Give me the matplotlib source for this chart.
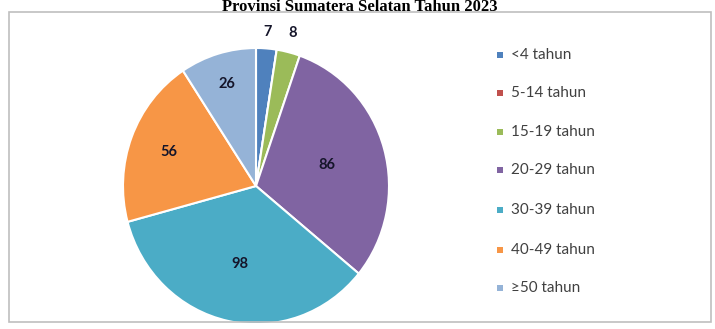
import numpy as np
import matplotlib
matplotlib.use("Agg")
from matplotlib import pyplot as plt
from matplotlib.patches import Rectangle

# data
categories = ["<4 tahun", "5-14 tahun", "15-19 tahun", "20-29 tahun",
              "30-39 tahun", "40-49 tahun", "\u226550 tahun"]
values = [7, 0, 8, 86, 98, 56, 26]
colors = ["#4F81BD", "#C0504D", "#9BBB59", "#8064A2",
          "#4BACC6", "#F79646", "#95B3D7"]
title = "Provinsi Sumatera Selatan Tahun 2023"

# radial position of each value label (fraction of radius)
label_r = [1.12, 1.0, 1.14, 0.55, 0.58, 0.70, 0.77]

W, H = 715, 329
fig = plt.figure(figsize=(W / 100, H / 100), dpi=100)
fig.patch.set_facecolor("white")

# chart frame
fig.patches.append(Rectangle((9 / W, 1 - 322 / H), 702 / W, 310 / H,
                             transform=fig.transFigure, fill=False,
                             edgecolor="#BFBFBF", linewidth=1.2))

# title
fig.text(0.503, 1 - 11 / H, title, ha="center", va="baseline",
         fontsize=12, fontweight="bold", family="Liberation Serif")

# pie axes, centre ~ (256, 186)
cx, cy, rx, ry = 256, 186, 133, 138
ax = fig.add_axes([(cx - rx) / W, 1 - (cy + ry) / H, 2 * rx / W, 2 * ry / H])
wedges, _ = ax.pie(values, colors=colors, startangle=90, counterclock=False,
                   wedgeprops=dict(edgecolor="white", linewidth=1.5))
ax.set_aspect("auto")
ax.set_xlim(-1, 1)
ax.set_ylim(-1, 1)

for w, v, r in zip(wedges, values, label_r):
    if v == 0:
        continue
    mid = np.deg2rad((w.theta1 + w.theta2) / 2)
    ax.text(r * np.cos(mid), r * np.sin(mid), str(v), ha="center",
            va="center", fontsize=10.5, color="#15152a", family="Lato",
            fontweight="bold", clip_on=False)

# legend
ys = [55, 93, 132, 170, 210, 250, 288]
for lab, c, y in zip(categories, colors, ys):
    fig.patches.append(Rectangle((497 / W, 1 - (y + 3) / H), 6 / W, 6 / H,
                                 transform=fig.transFigure, facecolor=c,
                                 edgecolor="none"))
    fig.text(511 / W, 1 - y / H, lab, ha="left", va="center",
             fontsize=11, color="#404040", family="Lato")

fig.savefig("out.png", dpi=100)
